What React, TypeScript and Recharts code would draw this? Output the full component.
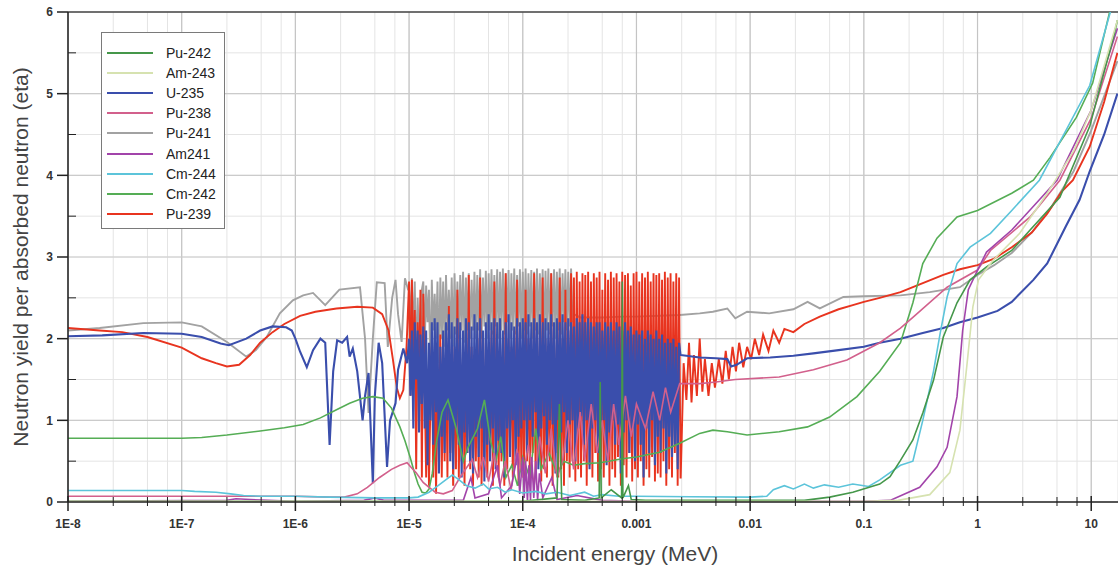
import React from "react";
import {
  LineChart,
  Line,
  XAxis,
  YAxis,
  CartesianGrid,
  ReferenceLine,
  Legend
} from "recharts";

const FONT = '"Liberation Sans", Arial, sans-serif';

// axis ticks
const xMajor = [1e-8, 1e-7, 1e-6, 1e-5, 1e-4, 1e-3, 0.01, 0.1, 1, 10];
const xLabels = ["1E-8", "1E-7", "1E-6", "1E-5", "1E-4", "0.001", "0.01", "0.1", "1", "10"];
const xMinorSteps = [2.5, 5, 7.5];
const xTicks = xMajor.flatMap((d) => [d, ...xMinorSteps.map((m) => m * d)]).filter((v) => v < 17);
const yTicks = [0, 0.5, 1, 1.5, 2, 2.5, 3, 3.5, 4, 4.5, 5, 5.5, 6];
const yMajor = [1, 2, 3, 4, 5];

// energy grid of the resolved-resonance region (MeV), 80 points per decade
const resMant = [1, 1.029, 1.059, 1.09, 1.122, 1.155, 1.189, 1.223, 1.259, 1.296, 1.334, 1.372, 1.413, 1.454, 1.496, 1.54, 1.585, 1.631, 1.679, 1.728, 1.778, 1.83, 1.884, 1.939, 1.995, 2.054, 2.113, 2.175, 2.239, 2.304, 2.371, 2.441, 2.512, 2.585, 2.661, 2.738, 2.818, 2.901, 2.985, 3.073, 3.162, 3.255, 3.35, 3.447, 3.548, 3.652, 3.758, 3.868, 3.981, 4.097, 4.217, 4.34, 4.467, 4.597, 4.732, 4.87, 5.012, 5.158, 5.309, 5.464, 5.623, 5.788, 5.957, 6.131, 6.31, 6.494, 6.683, 6.879, 7.079, 7.286, 7.499, 7.718, 7.943, 8.175, 8.414, 8.66, 8.913, 9.173, 9.441, 9.716];
const resEnergy = [1e-5, 1e-4, 1e-3].flatMap((d) => resMant.map((m) => m * d)).slice(0, 192);

// U-235
const u235Low = [[1e-8, 2.03], [2e-8, 2.04], [4.6e-8, 2.07], [1e-7, 2.06], [1.5e-7, 2.02], [2.2e-7, 1.94], [2.6e-7, 1.92], [3.7e-7, 2.0], [4.9e-7, 2.1], [6.3e-7, 2.15], [8.3e-7, 2.14], [9.3e-7, 2.1], [1e-6, 2.0], [1.1e-6, 1.84], [1.26e-6, 1.65], [1.43e-6, 1.86], [1.66e-6, 2.0], [1.83e-6, 1.95], [2e-6, 0.7], [2.15e-6, 1.6], [2.33e-6, 1.98], [2.58e-6, 1.95], [2.85e-6, 2.02], [3e-6, 1.78], [3.2e-6, 1.88], [3.5e-6, 1.6], [3.9e-6, 1.0], [4.1e-6, 1.3], [4.4e-6, 1.58], [4.8e-6, 0.23], [5e-6, 1.3], [5.4e-6, 1.95], [5.8e-6, 1.7], [6.4e-6, 0.43], [6.8e-6, 1.0], [7.6e-6, 1.21], [8e-6, 1.62], [8.9e-6, 1.88], [9.6e-6, 1.7]];
const u235Res = [
  2.0, 1.3, 2.1, 0.9, 2.2, 1.5, 2.1, 0.85, 2.05, 1.2, 2.15, 0.9, 2.1, 0.45, 1.95, 1.0,
  2.2, 0.7, 2.25, 1.1, 2.2, 0.35, 1.9, 0.8, 2.1, 0.6, 2.2, 1.0, 2.3, 0.5, 2.2, 0.4,
  2.15, 0.9, 2.25, 0.7, 2.2, 0.3, 2.1, 0.85, 2.25, 0.6, 2.2, 0.5, 2.15, 0.35, 2.3, 0.8,
  2.2, 0.55, 2.25, 0.9, 2.1, 0.25, 2.2, 0.7, 2.3, 0.5, 2.2, 0.9, 2.25, 0.4, 2.2, 0.75,
  2.25, 0.6, 2.1, 0.3, 2.2, 0.9, 2.3, 0.55, 2.2, 1.0, 2.15, 0.45, 2.25, 0.8, 2.2, 0.9,
  2.25, 1.0, 2.2, 0.6, 2.3, 1.0, 2.2, 0.8, 2.25, 1.1, 2.2, 0.4, 2.3, 0.9, 2.2, 1.05,
  2.25, 0.7, 2.2, 1.0, 2.3, 0.95, 2.2, 0.35, 2.25, 1.0, 2.2, 0.85, 2.3, 1.1, 2.2, 0.6,
  2.25, 0.95, 2.2, 1.0, 2.15, 0.5, 2.25, 0.9, 2.2, 1.05, 2.3, 0.7, 2.2, 1.0, 2.25, 0.4,
  2.2, 0.9, 2.15, 1.0, 2.2, 0.6, 2.2, 0.9, 2.1, 1.0, 2.2, 0.45, 2.15, 0.85, 2.2, 1.0,
  2.1, 0.7, 2.2, 0.95, 2.15, 0.35, 2.1, 0.85, 2.2, 1.0, 2.1, 0.6, 2.15, 0.9, 2.05, 0.5,
  2.1, 0.95, 2.05, 0.7, 2.1, 0.3, 2.0, 0.9, 2.1, 0.6, 2.05, 1.0, 2.0, 0.45, 2.1, 0.8,
  2.0, 0.6, 2.05, 0.9, 1.95, 0.35, 2.0, 0.8, 1.95, 0.55, 2.0, 0.7, 1.9, 0.4, 1.95, 1.8
];
const u235High = [[2.45e-3, 1.8], [3.6e-3, 1.77], [5e-3, 1.76], [6.3e-3, 1.75], [6.8e-3, 1.66], [7.6e-3, 1.68], [9.4e-3, 1.76], [0.015, 1.77], [0.024, 1.79], [0.036, 1.82], [0.06, 1.86], [0.1, 1.9], [0.138, 1.95], [0.21, 2.0], [0.33, 2.07], [0.5, 2.13], [0.7, 2.2], [1, 2.26], [1.5, 2.34], [2, 2.45], [3.1, 2.72], [4.1, 2.92], [6, 3.38], [7.9, 3.7], [9.7, 4.05], [13, 4.5], [17, 5.0]];

// Pu-239
const pu239Low = [[1e-8, 2.13], [1.9e-8, 2.1], [3e-8, 2.08], [5e-8, 2.02], [1e-7, 1.89], [1.5e-7, 1.76], [2e-7, 1.7], [2.5e-7, 1.66], [3.2e-7, 1.68], [4e-7, 1.8], [4.9e-7, 1.95], [6.3e-7, 2.08], [8e-7, 2.18], [1.1e-6, 2.28], [1.5e-6, 2.33], [2.3e-6, 2.37], [3.5e-6, 2.39], [4.8e-6, 2.38], [5.8e-6, 2.3], [6.6e-6, 2.1], [7.2e-6, 1.75], [7.8e-6, 1.4], [8.3e-6, 1.27], [8.9e-6, 1.37], [9.5e-6, 1.9]];
const pu239Res = [
  2.7, 1.3, 2.72, 1.6, 2.35, 0.4, 2.2, 1.5, 2.6, 0.3, 2.55, 1.4, 0.3, 1.6, 0.2, 1.2,
  1.9, 0.3, 1.4, 0.1, 1.7, 0.5, 2.05, 0.3, 1.8, 0.5, 2.0, 0.3, 2.4, 0.6, 1.8, 0.2,
  1.9, 0.4, 2.6, 0.3, 1.7, 0.5, 2.0, 0.2, 1.8, 0.6, 2.78, 0.4, 1.9, 0.2, 1.7, 0.5,
  2.0, 0.3, 2.75, 0.2, 1.8, 0.5, 2.0, 0.3, 1.9, 0.6, 2.1, 0.2, 2.7, 0.4, 1.9, 0.3,
  2.0, 0.5, 1.8, 0.2, 2.8, 0.4, 2.0, 0.7, 1.9, 0.3, 2.1, 0.5, 2.72, 0.2, 2.0, 0.4,
  1.9, 0.3, 2.6, 0.5, 2.0, 0.2, 1.8, 0.6, 2.8, 0.3, 2.0, 0.5, 2.1, 0.25, 2.75, 0.4,
  2.0, 0.3, 1.9, 0.5, 2.8, 0.2, 2.1, 0.6, 2.0, 0.3, 2.75, 0.4, 2.0, 0.2, 2.6, 0.5,
  2.1, 0.3, 2.8, 0.5, 2.75, 0.25, 2.82, 0.4, 2.7, 0.3, 2.8, 0.5, 2.78, 0.2, 2.82, 0.45,
  2.7, 0.3, 2.8, 0.6, 2.75, 0.25, 2.82, 0.4, 2.6, 0.3, 2.8, 0.5, 2.72, 0.2, 2.82, 0.4,
  2.75, 0.3, 2.8, 0.55, 2.7, 0.2, 2.82, 0.45, 2.78, 0.3, 2.8, 0.6, 2.65, 0.25, 2.8, 0.4,
  2.82, 0.3, 2.7, 0.5, 2.8, 0.2, 2.75, 0.4, 2.82, 0.3, 2.7, 0.55, 2.8, 0.25, 2.78, 0.35,
  2.8, 0.3, 2.72, 0.5, 2.82, 0.2, 2.75, 0.4, 2.8, 0.3, 2.7, 0.6, 2.8, 0.2, 2.75, 0.3
];
const pu239High = [[2.45e-3, 0.3], [2.6e-3, 1.7], [2.75e-3, 1.25], [2.9e-3, 1.95], [3.05e-3, 1.22], [3.2e-3, 1.8], [3.4e-3, 1.3], [3.6e-3, 2.0], [3.8e-3, 1.35], [4e-3, 1.75], [4.3e-3, 1.3], [4.6e-3, 1.7], [4.9e-3, 1.4], [5.3e-3, 1.75], [5.7e-3, 1.45], [6.1e-3, 1.85], [6.5e-3, 1.5], [7e-3, 1.9], [7.5e-3, 1.6], [8e-3, 1.95], [8.7e-3, 1.65], [9.4e-3, 1.9], [0.0102, 1.75], [0.011, 2.0], [0.012, 1.8], [0.013, 2.05], [0.0145, 1.85], [0.016, 2.1], [0.018, 1.95], [0.02, 2.12], [0.024, 2.08], [0.03, 2.18], [0.041, 2.27], [0.06, 2.36], [0.08, 2.41], [0.1, 2.45], [0.138, 2.5], [0.21, 2.57], [0.27, 2.63], [0.5, 2.78], [0.7, 2.85], [1, 2.9], [1.4, 2.98], [2, 3.12], [3, 3.3], [4.1, 3.53], [5.5, 3.8], [6.9, 3.94], [9.7, 4.35], [13, 4.9], [17, 5.5]];

// Pu-241
const pu241Low = [[1e-8, 2.1], [1.9e-8, 2.13], [4.6e-8, 2.19], [1e-7, 2.2], [1.5e-7, 2.15], [2.5e-7, 1.96], [3.7e-7, 1.78], [4.5e-7, 1.86], [5.6e-7, 2.02], [7.3e-7, 2.31], [9.5e-7, 2.47], [1.17e-6, 2.53], [1.43e-6, 2.56], [1.83e-6, 2.41], [2.44e-6, 2.6], [3.7e-6, 2.63], [4.1e-6, 2.0], [4.4e-6, 1.09], [4.8e-6, 2.0], [5.2e-6, 2.69], [6.1e-6, 2.68], [6.5e-6, 1.9], [7.1e-6, 2.5], [7.6e-6, 2.72], [8e-6, 2.3], [8.6e-6, 1.96], [9.2e-6, 2.74], [9.8e-6, 2.6]];
const pu241Res = [
  2.6, 2.2, 2.74, 1.9, 2.7, 1.6, 2.5, 2.0, 1.2, 2.6, 2.7, 1.9, 2.65, 2.2, 2.6, 1.5,
  2.72, 2.1, 2.55, 2.0, 2.7, 1.7, 2.75, 2.0, 2.7, 1.9, 2.78, 2.1, 2.6, 2.0, 2.75, 1.9,
  2.8, 2.05, 2.7, 2.0, 2.78, 2.1, 2.82, 1.95, 2.75, 2.1, 2.8, 2.0, 2.72, 2.1, 2.82, 2.0,
  2.78, 2.1, 2.85, 2.0, 2.75, 2.15, 2.83, 2.0, 2.8, 2.1, 2.85, 2.05, 2.78, 2.15, 2.85, 2.0,
  2.82, 2.1, 2.86, 2.05, 2.8, 2.2, 2.84, 2.0, 2.8, 2.1, 2.86, 2.05, 2.78, 2.15, 2.85, 2.0,
  2.82, 2.1, 2.86, 2.05, 2.8, 2.15, 2.84, 2.0, 2.82, 2.1, 2.86, 2.05, 2.8, 2.2, 2.85, 2.0,
  2.83, 2.1, 2.86, 2.05, 2.8, 2.15, 2.85, 2.0, 2.82, 2.1, 2.86, 2.05, 2.8, 2.2, 2.85, 2.1,
  2.82, 2.15, 2.86, 2.2, 2.3
];
const pu241High = [[3.2e-4, 2.26], [5e-4, 2.26], [7.5e-4, 2.27], [1e-3, 2.27], [1.6e-3, 2.28], [2.4e-3, 2.29], [3.6e-3, 2.31], [4.7e-3, 2.33], [6.3e-3, 2.37], [7.4e-3, 2.25], [9.4e-3, 2.33], [0.0147, 2.31], [0.024, 2.36], [0.032, 2.45], [0.041, 2.37], [0.066, 2.51], [0.1, 2.52], [0.21, 2.53], [0.38, 2.57], [0.7, 2.63], [1, 2.78], [1.4, 2.9], [2, 3.05], [3, 3.3], [4.5, 3.62], [7, 4.05], [10, 4.55], [17, 5.4]];

// Cm-242
const cm242 = [[1e-8, 0.78], [1e-7, 0.78], [1.5e-7, 0.79], [2.5e-7, 0.82], [4.9e-7, 0.87], [8e-7, 0.91], [1.17e-6, 0.95], [1.66e-6, 1.03], [2.3e-6, 1.13], [3e-6, 1.21], [3.9e-6, 1.27], [4.8e-6, 1.29], [5.9e-6, 1.27], [7e-6, 1.15], [8.3e-6, 0.92], [9.2e-6, 0.75], [1.02e-5, 0.55], [1.12e-5, 0.35], [1.2e-5, 0.22], [1.3e-5, 0.12], [1.4e-5, 0.11], [1.5e-5, 0.16], [1.6e-5, 0.35], [1.75e-5, 0.75], [1.95e-5, 1.1], [2.2e-5, 1.25], [2.6e-5, 0.9], [3e-5, 0.5], [3.3e-5, 0.67], [4e-5, 0.9], [4.6e-5, 1.25], [5.2e-5, 0.75], [5.8e-5, 0.5], [6.4e-5, 0.8], [7.1e-5, 0.3], [8e-5, 0.45], [9e-5, 0.2], [1e-4, 0.55], [1.15e-4, 0.3], [1.3e-4, 0.9], [1.45e-4, 0.4], [1.7e-4, 0.6], [2e-4, 0.35], [2.3e-4, 0.5], [2.8e-4, 0.45], [3.5e-4, 0.47], [4.8e-4, 0.48], [7.5e-4, 0.53], [1e-3, 0.55], [1.6e-3, 0.61], [2.4e-3, 0.72], [3.6e-3, 0.84], [4.7e-3, 0.88], [6.3e-3, 0.86], [9.4e-3, 0.82], [0.018, 0.86], [0.032, 0.92], [0.05, 1.04], [0.087, 1.29], [0.138, 1.6], [0.21, 1.95], [0.27, 2.44], [0.33, 2.92], [0.44, 3.23], [0.66, 3.49], [1, 3.57], [2, 3.78], [3.1, 3.94], [4.35, 4.22], [7.4, 4.71], [10.3, 5.13], [14.4, 5.98], [17, 6.3]];

// Pu-242
const pu242 = [[1e-8, 0.01], [1e-4, 0.01], [2e-4, 0.05], [2.1e-4, 1.2], [2.2e-4, 0.03], [3.5e-4, 0.02], [4.7e-4, 0.05], [4.8e-4, 1.47], [4.9e-4, 0.05], [6e-4, 0.15], [7.4e-4, 0.05], [7.5e-4, 2.7], [7.6e-4, 0.05], [8.5e-4, 0.2], [9e-4, 0.03], [1.2e-3, 0.02], [0.03, 0.02], [0.05, 0.06], [0.08, 0.12], [0.138, 0.22], [0.17, 0.31], [0.21, 0.51], [0.27, 0.76], [0.33, 1.09], [0.41, 1.49], [0.5, 2.02], [0.66, 2.44], [0.86, 2.72], [1.2, 2.88], [2, 3.08], [2.9, 3.33], [5.3, 3.73], [9.7, 4.6], [16, 5.74], [17, 5.9]];

// Am-243
const am243 = [[1e-8, 0.01], [0.1, 0.01], [0.2, 0.02], [0.38, 0.09], [0.57, 0.36], [0.7, 0.88], [0.81, 1.7], [0.91, 2.39], [1.02, 2.72], [1.37, 2.96], [2.35, 3.29], [4.1, 3.78], [7, 4.3], [10, 4.8], [17, 5.9]];

// Am241
const am241 = [[1e-8, 0.01], [2.5e-7, 0.02], [3e-7, 0.04], [4e-7, 0.03], [1e-6, 0.01], [4e-6, 0.02], [5e-6, 0.05], [6e-6, 0.02], [3e-5, 0.02], [3.5e-5, 0.3], [3.8e-5, 0.05], [5e-5, 0.1], [6e-5, 0.45], [6.5e-5, 0.05], [8e-5, 0.2], [9e-5, 0.6], [9.4e-5, 0.1], [1e-4, 0.55], [1.03e-4, 0.05], [1.06e-4, 0.5], [1.1e-4, 0.0], [1.13e-4, 0.45], [1.17e-4, 0.02], [1.2e-4, 0.55], [1.25e-4, 0.05], [1.3e-4, 0.5], [1.35e-4, 0.02], [1.4e-4, 0.35], [1.5e-4, 0.05], [1.8e-4, 0.3], [2e-4, 0.03], [3e-4, 0.08], [5e-4, 0.02], [1e-3, 0.01], [0.1, 0.01], [0.17, 0.02], [0.31, 0.18], [0.44, 0.43], [0.54, 0.67], [0.66, 1.29], [0.74, 2.1], [0.83, 2.6], [1, 2.84], [1.2, 3.06], [2, 3.33], [3.5, 3.7], [5, 3.94], [10, 4.8], [17, 5.8]];

// Cm-244
const cm244 = [[1e-8, 0.14], [1e-7, 0.14], [1.3e-7, 0.13], [2e-7, 0.12], [2.7e-7, 0.1], [3.5e-7, 0.08], [5e-7, 0.07], [1e-6, 0.07], [2e-6, 0.06], [5e-6, 0.05], [1e-5, 0.05], [1.2e-5, 0.06], [1.5e-5, 0.12], [1.8e-5, 0.2], [2.1e-5, 0.27], [2.4e-5, 0.33], [2.7e-5, 0.28], [3.2e-5, 0.2], [3.8e-5, 0.17], [4.5e-5, 0.22], [5e-5, 0.16], [6e-5, 0.18], [7e-5, 0.12], [8e-5, 0.15], [1e-4, 0.11], [1.3e-4, 0.13], [1.6e-4, 0.1], [2e-4, 0.12], [2.6e-4, 0.08], [3.5e-4, 0.12], [4.2e-4, 0.07], [5e-4, 0.09], [7e-4, 0.07], [1e-3, 0.07], [3e-3, 0.065], [0.01, 0.06], [0.014, 0.07], [0.016, 0.15], [0.02, 0.2], [0.024, 0.16], [0.03, 0.22], [0.036, 0.17], [0.045, 0.21], [0.06, 0.18], [0.08, 0.22], [0.1, 0.2], [0.11, 0.19], [0.138, 0.27], [0.21, 0.45], [0.27, 0.5], [0.33, 1.0], [0.41, 1.6], [0.47, 2.07], [0.54, 2.51], [0.66, 2.92], [0.86, 3.12], [1.3, 3.29], [2, 3.57], [3.5, 3.94], [6, 4.55], [9.7, 5.1], [14.4, 5.95], [17, 6.3]];

// Pu-238
const pu238 = [[1e-8, 0.07], [1e-6, 0.07], [2e-6, 0.06], [2.7e-6, 0.06], [3.5e-6, 0.1], [4.3e-6, 0.18], [5.5e-6, 0.3], [7e-6, 0.4], [8.3e-6, 0.45], [9.6e-6, 0.48], [1.05e-5, 0.42], [1.15e-5, 0.36], [1.33e-5, 0.24], [1.5e-5, 0.18], [1.7e-5, 0.12], [2e-5, 0.1], [2.4e-5, 0.14], [2.8e-5, 0.3], [3.2e-5, 0.42], [3.6e-5, 0.52], [4e-5, 0.3], [4.5e-5, 0.55], [5e-5, 0.25], [5.6e-5, 0.6], [6.3e-5, 0.2], [7e-5, 0.5], [7.9e-5, 0.15], [8.9e-5, 0.65], [1e-4, 0.3], [1.12e-4, 0.7], [1.26e-4, 0.2], [1.41e-4, 0.8], [1.58e-4, 0.35], [1.78e-4, 0.9], [2e-4, 0.3], [2.24e-4, 0.5], [2.5e-4, 1.0], [2.8e-4, 0.4], [3.2e-4, 1.1], [3.5e-4, 0.5], [4e-4, 1.2], [4.5e-4, 0.6], [5e-4, 1.0], [5.6e-4, 0.5], [6.3e-4, 1.2], [7e-4, 0.7], [8e-4, 1.3], [9e-4, 0.8], [1e-3, 1.2], [1.2e-3, 0.9], [1.4e-3, 1.35], [1.6e-3, 1.0], [1.8e-3, 1.4], [2e-3, 1.1], [2.4e-3, 1.45], [3.6e-3, 1.45], [5e-3, 1.47], [7.4e-3, 1.5], [0.018, 1.53], [0.036, 1.62], [0.071, 1.74], [0.138, 1.95], [0.21, 2.13], [0.27, 2.26], [0.54, 2.63], [1, 2.84], [1.3, 3.08], [2.9, 3.49], [5.3, 3.94], [10, 4.7], [17, 5.7]];

type Pair = number[];
const toPts = (pairs: Pair[]) => pairs.map(([e, v]) => ({ e, v }));
const resPts = (vals: number[]) => vals.map((v, i) => ({ e: resEnergy[i], v }));

const series = [
  { name: "Pu-241", color: "#a2a2a2", width: 1.9, data: [...toPts(pu241Low), ...resPts(pu241Res), ...toPts(pu241High)] },
  { name: "Pu-239", color: "#e8341f", width: 1.9, data: [...toPts(pu239Low), ...resPts(pu239Res), ...toPts(pu239High)] },
  { name: "U-235", color: "#3a4eac", width: 2.1, data: [...toPts(u235Low), ...resPts(u235Res), ...toPts(u235High)] },
  { name: "Cm-242", color: "#55ad55", width: 1.6, data: toPts(cm242) },
  { name: "Pu-238", color: "#d2608c", width: 1.6, data: toPts(pu238) },
  { name: "Am241", color: "#a244aa", width: 1.6, data: toPts(am241) },
  { name: "Cm-244", color: "#5cc4da", width: 1.6, data: toPts(cm244) },
  { name: "Pu-242", color: "#45974a", width: 1.6, data: toPts(pu242) },
  { name: "Am-243", color: "#d6e2b0", width: 1.6, data: toPts(am243) }
];

const legendOrder = ["Pu-242", "Am-243", "U-235", "Pu-238", "Pu-241", "Am241", "Cm-244", "Cm-242", "Pu-239"];

function XTick({ x, y, payload }: any) {
  const idx = xMajor.indexOf(payload.value);
  const major = idx >= 0;
  return (
    <g>
      <line x1={x} x2={x} y1={y - (major ? 6 : 5)} y2={y + (major ? 9 : 4)} stroke="#222" strokeWidth={major ? 1.5 : 1} />
      {major && (
        <text x={x} y={y + 26} textAnchor="middle" fontSize={12} fontWeight="bold" fill="#333" fontFamily={FONT}>
          {xLabels[idx]}
        </text>
      )}
    </g>
  );
}

function YTick({ x, y, payload }: any) {
  const v = payload.value;
  const major = Number.isInteger(v);
  return (
    <g>
      {major ? (
        <line x1={x - 11} x2={x} y1={y} y2={y} stroke="#222" strokeWidth={1.5} />
      ) : (
        <line x1={x} x2={x + 8} y1={y} y2={y} stroke="#222" strokeWidth={1} />
      )}
      {major && (
        <text x={x - 15} y={y} dy="0.35em" textAnchor="end" fontSize={12} fontWeight="bold" fill="#333" fontFamily={FONT}>
          {v}
        </text>
      )}
    </g>
  );
}

function LegendBox() {
  return (
    <div
      style={{
        position: "relative",
        width: 124,
        height: 197,
        border: "1px solid #7a7a7a",
        background: "#fff",
        boxSizing: "border-box",
        fontFamily: FONT
      }}
    >
      {legendOrder.map((name, k) => {
        const s = series.find((d) => d.name === name)!;
        return (
          <div key={name} style={{ position: "absolute", left: 0, top: 10 + k * 20.1, height: 20, width: "100%" }}>
            <div style={{ position: "absolute", left: 5, top: 9, width: 46, height: 2, background: s.color }} />
            <span style={{ position: "absolute", left: 64, top: 2, fontSize: 14, lineHeight: "16px", color: "#222" }}>{name}</span>
          </div>
        );
      })}
    </div>
  );
}

export default function App() {
  return (
    <div style={{ position: "fixed", left: 0, top: 0, width: 1118, height: 568, background: "#fff" }}>
      <LineChart width={1118} height={568} margin={{ top: 12, right: 0, bottom: 0, left: 0 }}>
        <CartesianGrid stroke="#e4e4e4" strokeWidth={1} />
        {xMajor.map((v) => (
          <ReferenceLine key={"x" + v} x={v} stroke="#c4c4c4" strokeWidth={1.2} />
        ))}
        {yMajor.map((v) => (
          <ReferenceLine key={"y" + v} y={v} stroke="#cbcbcb" strokeWidth={1.2} />
        ))}
        <ReferenceLine y={6} stroke="#444" strokeWidth={1.5} />
        <XAxis
          type="number"
          dataKey="e"
          scale="log"
          domain={[1e-8, 17.2]}
          allowDataOverflow
          ticks={xTicks}
          interval={0}
          height={66}
          tickSize={0}
          tickMargin={0}
          tickLine={false}
          tick={<XTick />}
          axisLine={{ stroke: "#222", strokeWidth: 1.5 }}
          label={{
            content: () => (
              <text x={615} y={561} textAnchor="middle" fontSize={21} fill="#444" fontFamily={FONT}>
                Incident energy (MeV)
              </text>
            )
          }}
        />
        <YAxis
          type="number"
          domain={[0, 6]}
          allowDataOverflow
          ticks={yTicks}
          interval={0}
          width={68}
          tickSize={0}
          tickMargin={0}
          tickLine={false}
          tick={<YTick />}
          axisLine={{ stroke: "#222", strokeWidth: 1.5 }}
          label={{
            content: () => (
              <text
                x={20}
                y={257}
                transform="rotate(-90 20 257)"
                textAnchor="middle"
                dominantBaseline="central"
                fontSize={21}
                fill="#444"
                fontFamily={FONT}
              >
                Neutron yield per absorbed neutron (eta)
              </text>
            )
          }}
        />
        {series.map((s) => (
          <Line
            key={s.name}
            name={s.name}
            data={s.data}
            dataKey="v"
            type="linear"
            stroke={s.color}
            strokeWidth={s.width}
            dot={false}
            activeDot={false}
            isAnimationActive={false}
          />
        ))}
        <Legend
          layout="vertical"
          align="center"
          verticalAlign="middle"
          content={() => <LegendBox />}
          wrapperStyle={{ left: 101, top: 32, width: 124, height: 197 }}
        />
      </LineChart>
    </div>
  );
}
